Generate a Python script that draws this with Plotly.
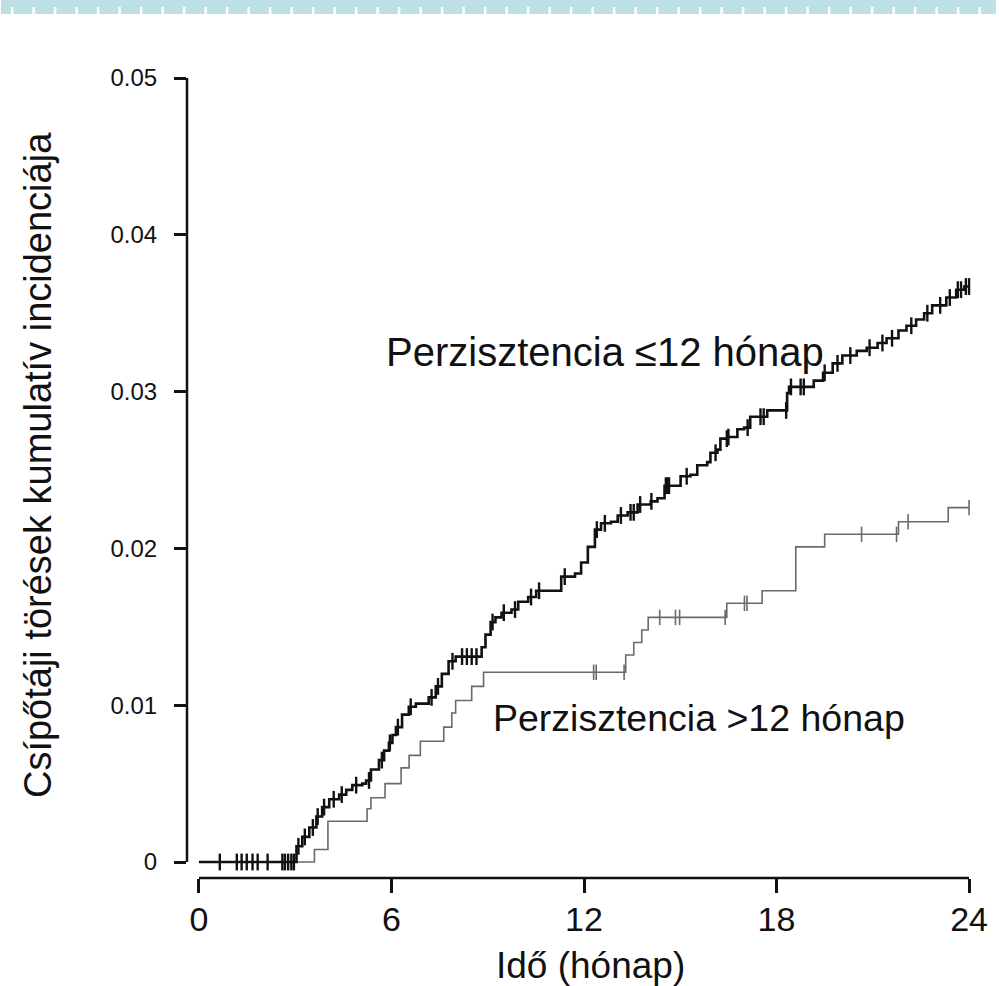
import numpy as np
import plotly.graph_objects as go

# ---------------- data ----------------
x_ticks = [0, 6, 12, 18, 24]
x_tick_labels = ["0", "6", "12", "18", "24"]
y_ticks = [0, 0.01, 0.02, 0.03, 0.04, 0.05]
y_tick_labels = ["0", "0.01", "0.02", "0.03", "0.04", "0.05"]
follow_up_end = 24

# Persistence <= 12 months (event times / cumulative incidence after the step)
upper_times = [0, 3.04, 3.22, 3.44, 3.66, 3.84, 4.06, 4.37, 4.59, 4.78, 5.09, 5.21, 5.36,
               5.61, 5.77, 5.92, 6.03, 6.14, 6.33, 6.54, 6.76, 7.16, 7.38, 7.57, 7.78, 8.00,
               8.81, 8.93, 9.09, 9.24, 9.43, 9.74, 9.95, 10.26, 10.51, 11.29, 11.72, 11.91,
               12.12, 12.34, 12.53, 12.84, 13.05, 13.36, 13.67, 14.08, 14.29, 14.51, 15.01,
               15.32, 15.53, 15.84, 15.94, 16.16, 16.25, 16.47, 16.78, 16.99, 17.18, 17.71,
               18.33, 18.39, 19.16, 19.45, 19.75, 20.05, 20.5, 20.81, 21.15, 21.43, 21.8,
               22.05, 22.35, 22.6, 22.85, 23.29, 23.6, 23.85]
upper_values = [0, 0.0010, 0.0016, 0.0022, 0.0029, 0.0035, 0.0040, 0.0043, 0.0046, 0.0049,
                0.0050, 0.0052, 0.0059, 0.0065, 0.0071, 0.0076, 0.0081, 0.0086, 0.0094,
                0.0099, 0.0101, 0.0105, 0.0112, 0.0120, 0.0128, 0.0131, 0.0137, 0.0145,
                0.0153, 0.0156, 0.0159, 0.0161, 0.0166, 0.0169, 0.0173, 0.0182, 0.0184,
                0.0191, 0.0201, 0.0212, 0.0216, 0.0217, 0.0221, 0.0223, 0.0228, 0.0230,
                0.0232, 0.0240, 0.0246, 0.0247, 0.0253, 0.0255, 0.0261, 0.0263, 0.0270,
                0.0271, 0.0276, 0.0277, 0.0284, 0.0288, 0.0299, 0.0303, 0.0307, 0.0312,
                0.0318, 0.0323, 0.0326, 0.0328, 0.0331, 0.0334, 0.0339, 0.0342, 0.0346,
                0.0350, 0.0355, 0.0360, 0.0365, 0.0367]
upper_censor_times = [0.65, 1.18, 1.33, 1.49, 1.67, 1.83, 2.14, 2.6, 2.68, 2.78, 2.88, 2.96,
                      3.1, 3.3, 3.55, 3.7, 3.9, 4.2, 4.45, 4.9, 5.3, 5.7, 5.95, 6.2, 6.6,
                      7.25, 7.45, 7.9, 8.2, 8.35, 8.5, 8.65, 9.15, 9.5, 9.85, 10.35, 10.6,
                      11.4, 12.4, 12.65, 13.15, 13.45, 13.55, 13.75, 14.1, 14.55, 14.6, 14.65,
                      15.2, 16.1, 16.45, 16.5, 17.1, 17.5, 17.6, 18.3, 18.45, 18.75, 18.85,
                      19.5, 19.9, 20.3, 20.9, 21.3, 21.6, 22.2, 22.7, 23.1, 23.4, 23.65,
                      23.75, 23.9, 24.0]

# Persistence > 12 months
lower_times = [0, 3.6, 4.02, 5.24, 5.36, 5.8, 6.3, 6.55, 6.9, 7.63, 7.88, 8.0, 8.5, 8.87,
               13.3, 13.55, 13.8, 14.0, 16.45, 17.55, 18.6, 19.5, 21.8, 23.35]
lower_values = [0, 0.0008, 0.0026, 0.0034, 0.0041, 0.0050, 0.0060, 0.0068, 0.0077, 0.0086,
                0.0095, 0.0103, 0.0112, 0.0121, 0.0132, 0.0140, 0.0148, 0.0156, 0.0165,
                0.0173, 0.0201, 0.0209, 0.0217, 0.0226]
lower_censor_times = [12.3, 12.38, 13.25, 14.36, 14.85, 14.98, 16.4, 17.0, 17.08, 20.65,
                      21.74, 22.1, 24.0]

label_upper = "Perzisztencia ≤12 hónap"
label_lower = "Perzisztencia >12 hónap"
x_title = "Idő (hónap)"
y_title = "Csípőtáji törések kumulatív incidenciája"


def step_value(times, values, t):
    idx = np.searchsorted(np.asarray(times), np.asarray(t), side="right") - 1
    return np.asarray(values)[idx]


FONT = "Liberation Sans, Arial, sans-serif"
fig = go.Figure()


def add_curve(times, values, censors, color, width, msize, mwidth):
    xs = list(times) + [follow_up_end]
    ys = list(values) + [values[-1]]
    fig.add_trace(go.Scatter(x=xs, y=ys, mode="lines", line=dict(color=color, width=width, shape="hv"),
                             showlegend=False, hoverinfo="skip"))
    fig.add_trace(go.Scatter(x=censors, y=step_value(times, values, censors), mode="markers",
                             marker=dict(symbol="line-ns", size=msize,
                                         line=dict(color=color, width=mwidth)),
                             showlegend=False, hoverinfo="skip"))


add_curve(lower_times, lower_values, lower_censor_times, "#6a6a6a", 1.6, 11, 1.6)
add_curve(upper_times, upper_values, upper_censor_times, "#111111", 2.6, 12, 2.4)

# plot geometry
L, R, T, B = 187, 15, 70, 108
W, H = 1000, 986
pw, ph = W - L - R, H - T - B
x_pad = 12 / 32.25
y_lo = -16 / 15680
y_hi = 0.05 + 8 / 15680

fig.update_layout(
    width=W, height=H, margin=dict(l=L, r=R, t=T, b=B, pad=0),
    paper_bgcolor="white", plot_bgcolor="white",
    font=dict(family=FONT, color="#111111"),
    xaxis=dict(range=[-x_pad, follow_up_end + x_pad], tickvals=x_ticks, ticktext=x_tick_labels,
               showgrid=False, zeroline=False, showline=False, ticks="outside", ticklen=14,
               tickwidth=2.5, tickcolor="#111111", tickfont=dict(size=34, family=FONT),
               ticklabelstandoff=-3),
    yaxis=dict(range=[y_lo, y_hi], tickvals=y_ticks, ticktext=y_tick_labels,
               showgrid=False, zeroline=False, showline=False, ticks="outside", ticklen=12,
               tickwidth=2.5, tickcolor="#111111", tickfont=dict(size=24, family=FONT),
               ticklabelstandoff=12),
)

# axis lines (R-style, detached)
fig.add_shape(type="line", xref="x", yref="paper", x0=x_ticks[0], x1=x_ticks[-1], y0=0, y1=0,
              line=dict(color="#111111", width=2.5))
fig.add_shape(type="line", xref="paper", yref="y", x0=0, x1=0, y0=y_ticks[0], y1=y_ticks[-1],
              line=dict(color="#111111", width=2.5))

# decorative top band
px2x = lambda p: (p - L) / pw
py2y = lambda p: (H - B - p) / ph
fig.add_shape(type="rect", xref="paper", yref="paper", x0=px2x(0), x1=px2x(W), y0=py2y(14),
              y1=py2y(0), fillcolor="#bde0e5", line=dict(width=0), layer="above")
fig.add_shape(type="line", xref="paper", yref="paper", x0=px2x(10), x1=px2x(W), y0=py2y(10.5),
              y1=py2y(10.5), line=dict(color="white", width=7, dash="2.5px,19px"), layer="above")

# labels
fig.add_annotation(x=5.77, y=0.0325, xref="x", yref="y", text=label_upper, showarrow=False,
                   xanchor="left", yanchor="middle", font=dict(size=40, family=FONT, color="#111111"))
fig.add_annotation(x=9.09, y=0.0092, xref="x", yref="y", text=label_lower, showarrow=False,
                   xanchor="left", yanchor="middle", font=dict(size=37.5, family=FONT, color="#111111"))
fig.add_annotation(x=12.2, y=py2y(988), xref="x", yref="paper", text=x_title, showarrow=False,
                   xanchor="center", yanchor="bottom", font=dict(size=37, family=FONT, color="#111111"))
fig.add_annotation(x=px2x(38), y=0.0253, xref="paper", yref="y", text=y_title, showarrow=False,
                   textangle=-90, xanchor="center", yanchor="middle",
                   font=dict(size=38, family=FONT, color="#111111"))

fig.write_html("out.html")
